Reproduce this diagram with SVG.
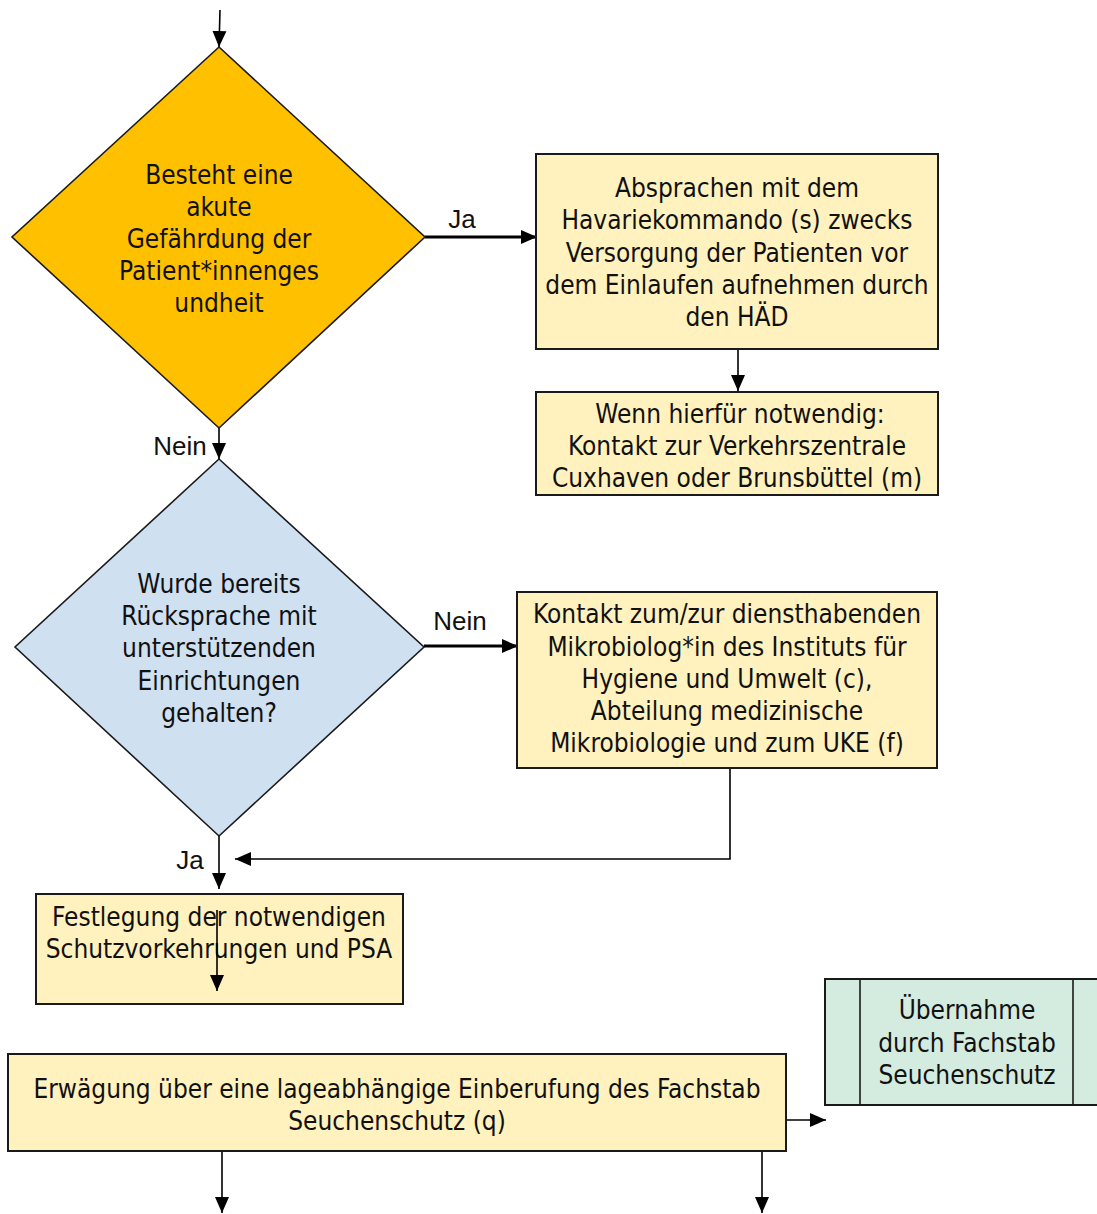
<svg xmlns="http://www.w3.org/2000/svg" width="1097" height="1214" viewBox="0 0 1097 1214">
<defs>
<marker id="ah" markerUnits="userSpaceOnUse" markerWidth="16" markerHeight="16" viewBox="0 0 16 16" refX="16" refY="8" orient="auto">
<path d="M0,1 L16,8 L0,15 Z" fill="#000"/>
</marker>
</defs>
<style>
.t{font-family:"DejaVu Sans Condensed","DejaVu Sans",sans-serif;font-size:26px;fill:#111;text-anchor:middle}
.l{font-family:"Liberation Sans",Arial,sans-serif;font-size:26px;fill:#111;text-anchor:middle}
.box{fill:#FFF2BF;stroke:#1a1a1a;stroke-width:2}
.c{fill:none;stroke:#000;stroke-width:1.6}
.ct{fill:none;stroke:#000;stroke-width:3}
</style>
<rect width="1097" height="1214" fill="#fff"/>
<g id="connectors">
<path class="c" d="M220,10 L219,47" marker-end="url(#ah)"/>
<path class="ct" d="M425,237 L537,237" marker-end="url(#ah)"/>
<path class="c" d="M738,349 L738,391" marker-end="url(#ah)"/>
<path class="c" d="M219,428 L219,459" marker-end="url(#ah)"/>
<path class="ct" d="M424,646 L518,646" marker-end="url(#ah)"/>
<path class="c" d="M730,768 L730,859 L235,859" marker-end="url(#ah)"/>
<path class="c" d="M219,836 L219,889" marker-end="url(#ah)"/>
<path class="c" d="M786,1120 L826,1120" marker-end="url(#ah)"/>
<path class="c" d="M222,1152 L222,1213" marker-end="url(#ah)"/>
<path class="c" d="M762,1152 L762,1213" marker-end="url(#ah)"/>
<text class="l" x="462" y="228">Ja</text>
<text class="l" x="180" y="455">Nein</text>
<text class="l" x="460" y="630">Nein</text>
<text class="l" x="190" y="869">Ja</text>
</g>
<g id="d1">
<polygon points="219,47 425,237 219,428 12,237" fill="#FFC000" stroke="#1a1a1a" stroke-width="1.6"/>
<text class="t" x="219" y="184">Besteht eine</text>
<text class="t" x="219" y="216">akute</text>
<text class="t" x="219" y="248">Gefährdung der</text>
<text class="t" x="219" y="280">Patient*innenges</text>
<text class="t" x="219" y="312">undheit</text>
</g>
<g id="b1">
<rect class="box" x="536" y="154" width="402" height="195"/>
<text class="t" x="737" y="197">Absprachen mit dem</text>
<text class="t" x="737" y="229">Havariekommando (s) zwecks</text>
<text class="t" x="737" y="262">Versorgung der Patienten vor</text>
<text class="t" x="737" y="294">dem Einlaufen aufnehmen durch</text>
<text class="t" x="737" y="326">den HÄD</text>
</g>
<g id="b2">
<rect class="box" x="536" y="392" width="402" height="103"/>
<text class="t" x="740" y="423">Wenn hierfür notwendig:</text>
<text class="t" x="737" y="455">Kontakt zur Verkehrszentrale</text>
<text class="t" x="737" y="487">Cuxhaven oder Brunsbüttel (m)</text>
</g>
<g id="d2">
<polygon points="219,459 424,647 219,836 15,647" fill="#CFE0F1" stroke="#1a1a1a" stroke-width="1.6"/>
<text class="t" x="219" y="593">Wurde bereits</text>
<text class="t" x="219" y="625">Rücksprache mit</text>
<text class="t" x="219" y="657">unterstützenden</text>
<text class="t" x="219" y="690">Einrichtungen</text>
<text class="t" x="219" y="722">gehalten?</text>
</g>
<g id="b3">
<rect class="box" x="517" y="592" width="420" height="176"/>
<text class="t" x="727" y="623">Kontakt zum/zur diensthabenden</text>
<text class="t" x="727" y="656">Mikrobiolog*in des Instituts für</text>
<text class="t" x="727" y="688">Hygiene und Umwelt (c),</text>
<text class="t" x="727" y="720">Abteilung medizinische</text>
<text class="t" x="727" y="752">Mikrobiologie und zum UKE (f)</text>
</g>
<g id="b4">
<rect class="box" x="36" y="894" width="367" height="110"/>
<text class="t" x="219" y="926">Festlegung der notwendigen</text>
<text class="t" x="219" y="958">Schutzvorkehrungen und PSA</text>
<path class="c" d="M217,910 L217,991" marker-end="url(#ah)"/>
</g>
<g id="b5">
<rect class="box" x="8" y="1054" width="778" height="97"/>
<text class="t" x="397" y="1098">Erwägung über eine lageabhängige Einberufung des Fachstab</text>
<text class="t" x="397" y="1130">Seuchenschutz (q)</text>
</g>
<g id="g1">
<rect x="825" y="979" width="280" height="126" fill="#D4EBDF" stroke="#1a1a1a" stroke-width="2"/>
<line x1="860" y1="979" x2="860" y2="1105" stroke="#1a1a1a" stroke-width="1.6"/>
<line x1="1073" y1="979" x2="1073" y2="1105" stroke="#1a1a1a" stroke-width="1.6"/>
<text class="t" x="967" y="1019">Übernahme</text>
<text class="t" x="967" y="1052">durch Fachstab</text>
<text class="t" x="967" y="1084">Seuchenschutz</text>
</g>
</svg>
